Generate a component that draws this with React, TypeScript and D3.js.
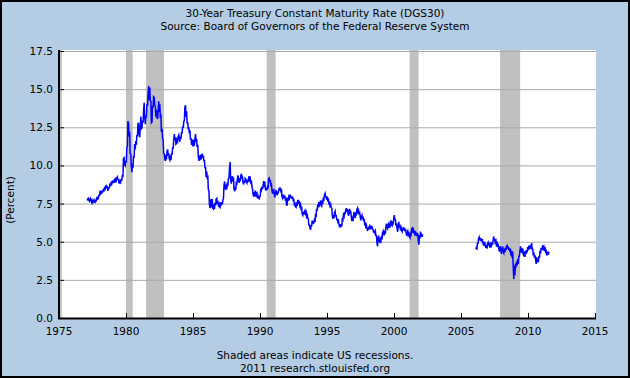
import React from "react";
import * as d3 from "d3";

// ---- data (monthly low / high of daily DGS30) ----
const seg1Start = [1977, 2];
const seg1Low = [
  7.70,7.72,7.65,7.72,7.58,7.58,7.60,7.58,7.68,7.80,7.85,
  8.05,8.18,8.20,8.28,8.35,8.45,8.55,8.38,8.40,8.58,8.65,8.80,
  8.85,8.85,8.97,9.00,9.10,8.85,8.85,8.90,9.05,9.30,10.05,9.98,
  10.20,11.25,11.90,10.80,9.95,9.55,9.85,10.50,11.05,11.35,11.95,12.05,
  11.85,12.40,12.45,12.80,13.20,12.70,13.15,13.90,14.30,14.25,12.80,12.85,
  13.80,14.00,13.20,13.15,13.05,13.50,13.20,12.20,11.80,10.80,10.40,10.30,
  10.40,10.65,10.45,10.35,10.35,10.70,11.15,11.65,11.40,11.45,11.60,11.75,
  11.55,11.75,12.15,12.45,12.95,13.20,12.80,12.35,12.10,11.70,11.35,11.35,
  11.25,11.30,11.55,11.20,10.60,10.30,10.35,10.40,10.50,10.30,9.85,9.25,
  9.20,8.45,7.45,7.20,7.25,7.20,7.15,7.15,7.40,7.55,7.40,7.30,
  7.25,7.45,7.45,7.85,8.55,8.40,8.45,8.75,9.20,9.10,8.80,8.95,
  8.45,8.30,8.40,8.80,9.10,8.85,8.95,9.20,8.90,8.75,8.85,8.95,
  8.85,8.90,9.05,8.90,8.65,8.15,7.95,7.95,8.05,7.85,7.85,7.82,
  8.00,8.40,8.45,8.60,8.50,8.35,8.40,8.55,8.90,8.70,8.35,8.15,
  8.15,7.90,8.15,8.10,8.15,8.35,8.30,7.95,7.85,7.85,7.80,7.40,
  7.40,7.75,7.85,7.85,7.80,7.72,7.45,7.30,7.25,7.35,7.55,7.35,
  7.20,6.85,6.75,6.78,6.85,6.65,6.55,6.12,5.90,5.78,6.05,6.15,
  6.20,6.30,6.70,7.05,7.25,7.30,7.45,7.35,7.50,7.80,7.95,7.75,
  7.70,7.50,7.35,7.25,6.75,6.50,6.55,6.70,6.45,6.30,6.15,5.95,
  5.95,6.00,6.45,6.65,6.80,6.95,6.90,6.70,6.90,6.65,6.35,6.35,
  6.70,6.55,6.80,6.95,6.85,6.65,6.40,6.50,6.35,6.15,6.00,5.90,
  5.70,5.80,5.85,5.85,5.85,5.60,5.60,5.40,4.95,4.70,5.05,4.98,
  5.05,5.15,5.45,5.45,5.60,5.95,5.85,5.95,5.95,6.10,6.05,6.20,
  6.45,6.05,5.85,5.65,6.00,5.85,5.75,5.65,5.75,5.70,5.65,5.40,
  5.45,5.35,5.25,5.45,5.70,5.55,5.50,5.40,5.35,5.10,4.80,5.30,
  5.35,5.35,
];
const seg1High = [
  7.80,7.85,7.78,7.85,7.70,7.70,7.75,7.70,7.85,7.90,8.05,
  8.25,8.28,8.30,8.40,8.52,8.58,8.72,8.58,8.55,8.82,8.85,9.00,
  9.02,9.05,9.10,9.18,9.25,9.05,9.00,9.05,9.32,10.45,10.50,10.30,
  11.15,12.90,12.75,12.20,10.75,10.10,10.60,11.40,11.60,11.95,12.75,12.75,
  12.40,13.20,12.95,13.55,14.10,13.25,14.00,14.60,15.21,15.10,14.20,13.90,
  14.50,14.45,13.85,13.65,13.45,14.20,14.00,13.25,12.40,11.65,10.75,10.70,
  10.90,11.05,10.80,10.65,10.80,11.15,11.65,12.05,11.85,11.70,11.90,12.00,
  11.90,12.15,12.55,12.85,13.80,13.94,13.55,12.80,12.50,12.30,11.80,11.70,
  11.70,11.70,12.05,11.75,11.35,10.65,10.70,10.70,10.72,10.65,10.30,9.85,
  9.60,9.25,8.30,7.65,7.80,7.80,7.45,7.55,7.80,7.85,7.60,7.50,
  7.50,7.60,7.70,8.65,8.95,8.75,8.80,9.15,9.85,10.22,9.15,9.30,
  9.20,8.60,8.85,9.10,9.35,9.15,9.30,9.45,9.25,9.00,9.15,9.10,
  9.05,9.15,9.30,9.15,9.00,8.45,8.25,8.30,8.25,8.15,7.98,7.98,
  8.50,8.62,8.65,8.98,8.95,8.55,8.60,9.12,9.17,9.05,8.75,8.35,
  8.40,8.15,8.40,8.30,8.35,8.55,8.55,8.35,8.05,8.05,8.00,7.90,
  7.80,7.95,8.05,8.05,7.98,7.95,7.75,7.50,7.45,7.70,7.70,7.60,
  7.45,7.30,6.95,6.95,7.05,6.95,6.75,6.50,6.10,6.05,6.38,6.35,
  6.40,6.75,7.15,7.45,7.60,7.55,7.70,7.60,7.90,8.05,8.16,7.95,
  7.95,7.75,7.55,7.45,7.20,6.75,6.90,7.00,6.70,6.45,6.38,6.15,
  6.15,6.55,6.75,6.95,7.05,7.20,7.15,7.00,7.15,6.95,6.65,6.75,
  6.95,6.85,7.10,7.20,7.05,6.90,6.65,6.75,6.65,6.50,6.20,6.10,
  5.95,5.98,6.05,6.00,6.00,5.80,5.75,5.70,5.40,5.25,5.40,5.15,
  5.25,5.60,5.70,5.65,5.95,6.18,6.10,6.20,6.15,6.40,6.25,6.48,
  6.75,6.45,6.20,6.00,6.30,6.05,5.95,5.80,5.95,5.90,5.85,5.60,
  5.70,5.55,5.50,5.85,5.90,5.80,5.75,5.58,5.60,5.55,5.35,5.60,
  5.55,5.50,
];
const seg2Start = [2006, 2];
const seg2Low = [
  4.50,4.55,4.90,5.10,5.05,5.05,4.90,4.75,4.75,4.60,4.55,
  4.75,4.65,4.65,4.75,4.80,5.05,4.95,4.80,4.65,4.65,4.35,4.40,
  4.20,4.35,4.25,4.30,4.45,4.55,4.45,4.40,4.10,3.95,3.45,2.55,
  2.80,3.45,3.45,3.55,4.05,4.30,4.25,4.20,4.05,4.00,4.20,4.30,
  4.45,4.50,4.55,4.50,4.10,3.95,3.90,3.55,3.65,3.65,3.95,4.25,
  4.45,4.55,4.40,4.35,4.15,4.15,4.15,
];
const seg2High = [
  4.60,4.90,5.20,5.30,5.25,5.20,5.10,4.95,4.95,4.80,4.85,
  4.95,4.95,4.85,4.95,5.05,5.35,5.20,5.05,4.90,4.88,4.65,4.65,
  4.50,4.70,4.55,4.60,4.70,4.75,4.70,4.60,4.45,4.40,4.35,3.40,
  3.55,3.70,3.85,4.05,4.35,4.70,4.60,4.55,4.35,4.40,4.45,4.65,
  4.75,4.75,4.80,4.85,4.50,4.30,4.10,4.00,3.90,4.05,4.40,4.60,
  4.60,4.77,4.65,4.65,4.40,4.35,4.35,
];
const recessionStarts = ["1980-01", "1981-07", "1990-07", "2001-03", "2007-12"];
const recessionEnds = ["1980-07", "1982-11", "1991-03", "2001-11", "2009-06"];
const yTicks = [0, 2.5, 5, 7.5, 10, 12.5, 15, 17.5];
const xTicks = [1975, 1980, 1985, 1990, 1995, 2000, 2005, 2010, 2015];
const titleLines = [
  "30-Year Treasury Constant Maturity Rate (DGS30)",
  "Source: Board of Governors of the Federal Reserve System",
];
const footLines = ["Shaded areas indicate US recessions.", "2011 research.stlouisfed.org"];
const yLabel = "(Percent)";

const W = 630, H = 378;
const X0 = 59, X1 = 595, Y0 = 318, Y1 = 51;
const FONT = "DejaVu Sans, Verdana, sans-serif";

const x = d3.scaleLinear().domain([1975, 2015]).range([X0, X1]);
const y = d3.scaleLinear().domain([0, 17.5]).range([Y0, Y1]);

function monthToYear(s: string) {
  const [yy, mm] = s.split("-").map(Number);
  return yy + (mm - 1) / 12;
}

function buildPoints(start: number[], lo: number[], hi: number[]) {
  const pts: [number, number][] = [];
  for (let i = 0; i < lo.length; i++) {
    const t = start[0] + (start[1] - 1 + i) / 12;
    const cur = (lo[i] + hi[i]) / 2;
    const nxt = i + 1 < lo.length ? (lo[i + 1] + hi[i + 1]) / 2 : cur;
    const rising = nxt >= cur;
    const a = rising ? lo[i] : hi[i];
    const b = rising ? hi[i] : lo[i];
    pts.push([t + 0.3 / 12, a]);
    pts.push([t + 0.7 / 12, b]);
  }
  return pts;
}

const line = d3
  .line<[number, number]>()
  .x((d) => x(d[0]))
  .y((d) => y(d[1]));

export default function App() {
  const p1 = buildPoints(seg1Start, seg1Low, seg1High);
  const p2 = buildPoints(seg2Start, seg2Low, seg2High);
  return (
    <svg
      width={W}
      height={H}
      style={{ position: "absolute", left: 0, top: 0, display: "block" }}
      fontFamily={FONT}
    >
      <rect x={1} y={1} width={W - 2} height={H - 2} fill="#b4cde4" stroke="#000" strokeWidth={2} />
      <rect x={X0} y={Y1 - 1} width={X1 + 1 - X0} height={Y0 - Y1 + 1} fill="#fff" />
      {recessionStarts.map((s, i) => (
        <rect
          key={s}
          x={x(monthToYear(s))}
          y={Y1 - 1}
          width={x(monthToYear(recessionEnds[i])) - x(monthToYear(s))}
          height={Y0 - Y1 + 1}
          fill="#c0c0c0"
        />
      ))}
      {yTicks.map((v) => (
        <line key={v} x1={X0} x2={X1 + 1} y1={y(v) + 0.5} y2={y(v) + 0.5} stroke="#aaaaaa" strokeWidth={1} />
      ))}
      <rect x={X0 + 1} y={Y1 - 1} width={2} height={Y0 - Y1 + 1} fill="#c8c8c8" />
      <path d={line(p1) || ""} fill="none" stroke="#0000ff" strokeWidth={1.5} />
      <path d={line(p2) || ""} fill="none" stroke="#0000ff" strokeWidth={1.5} />
      {/* axes */}
      <line x1={X0} x2={X0} y1={Y1 - 1} y2={Y0 + 1} stroke="#000" strokeWidth={2} />
      <line x1={X0 - 1} x2={X1 + 1} y1={Y0 + 0.5} y2={Y0 + 0.5} stroke="#000" strokeWidth={2} />
      {yTicks.map((v) => (
        <g key={"yt" + v}>
          <line x1={X0} x2={X0 + 5} y1={y(v) + 0.5} y2={y(v) + 0.5} stroke="#000" strokeWidth={1} />
          <text x={53} y={y(v) + 4} textAnchor="end" fontSize={10.5} fill="#000">
            {v.toFixed(1)}
          </text>
        </g>
      ))}
      {xTicks.map((t) => (
        <g key={"xt" + t}>
          <line x1={x(t) + 0.5} x2={x(t) + 0.5} y1={Y0} y2={Y0 - 5} stroke="#000" strokeWidth={1} />
          <text x={x(t)} y={335} textAnchor="middle" fontSize={10.5} fill="#000">
            {t}
          </text>
        </g>
      ))}
      <text transform="translate(14,200) rotate(-90)" textAnchor="middle" fontSize={10.5} fill="#000">
        {yLabel}
      </text>
      {titleLines.map((s, i) => (
        <text key={s} x={315} y={17 + i * 13} textAnchor="middle" fontSize={10.5} fill="#000">
          {s}
        </text>
      ))}
      {footLines.map((s, i) => (
        <text key={s} x={315} y={359 + i * 13} textAnchor="middle" fontSize={10.5} fill="#000">
          {s}
        </text>
      ))}
    </svg>
  );
}
